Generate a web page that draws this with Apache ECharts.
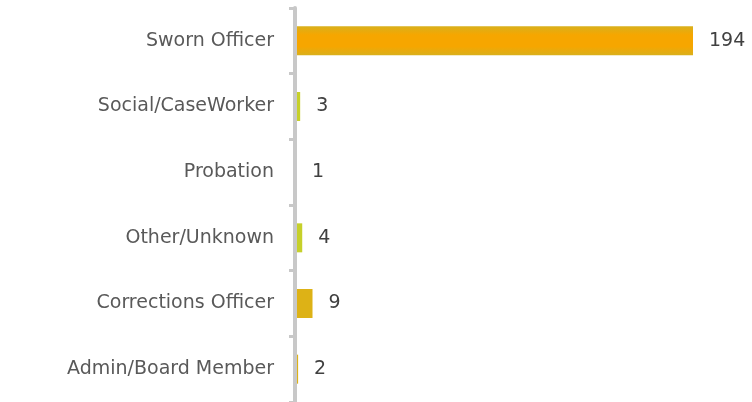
<!DOCTYPE html>
<html>
<head>
<meta charset="utf-8">
<script src="https://cdn.jsdelivr.net/npm/echarts@6/dist/echarts.min.js"></script>
<style>
html,body{margin:0;padding:0;background:#fff;}
#chart{width:752px;height:402px;}
</style>
</head>
<body>
<div id="chart"></div>
<script>
const categories = ["Sworn Officer", "Social/CaseWorker", "Probation", "Other/Unknown", "Corrections Officer", "Admin/Board Member"];
const values = [194, 3, 1, 4, 9, 2];
const barColors = ["#F4A700", "#C6D02A", "#C6D02A", "#C6D02A", "#DDB216", "#DDB216"];

const FONT = "DejaVu Sans";
const chart = echarts.init(document.getElementById('chart'), null, {renderer: 'canvas'});

function colorFor(i) {
  if (i === 0) {
    return new echarts.graphic.LinearGradient(0, 0, 0, 1, [
      {offset: 0, color: '#D9B01C'},
      {offset: 0.3, color: '#F6A600'},
      {offset: 0.7, color: '#F6A600'},
      {offset: 1, color: '#D9B01C'}
    ]);
  }
  return barColors[i];
}

chart.setOption({
  animation: false,
  grid: {left: 294, right: 59, top: 8, bottom: -3, containLabel: false},
  xAxis: {
    type: 'value', min: 0, max: 194,
    show: false
  },
  yAxis: {
    type: 'category',
    data: categories,
    inverse: true,
    offset: -1,
    z: 5,
    axisLine: {show: true, lineStyle: {color: '#C8C8C8', width: 4}},
    axisTick: {show: true, length: 6, lineStyle: {color: '#C8C8C8', width: 3}},
    axisLabel: {color: '#595959', fontFamily: FONT, fontSize: 19, margin: 21}
  },
  series: [{
    type: 'bar',
    barWidth: 29,
    data: values.map((v, i) => ({value: v, itemStyle: {color: colorFor(i)}})),
    label: {
      show: true, position: 'right', distance: 16,
      color: '#404040', fontFamily: FONT, fontSize: 19
    }
  }]
});
</script>
</body>
</html>
